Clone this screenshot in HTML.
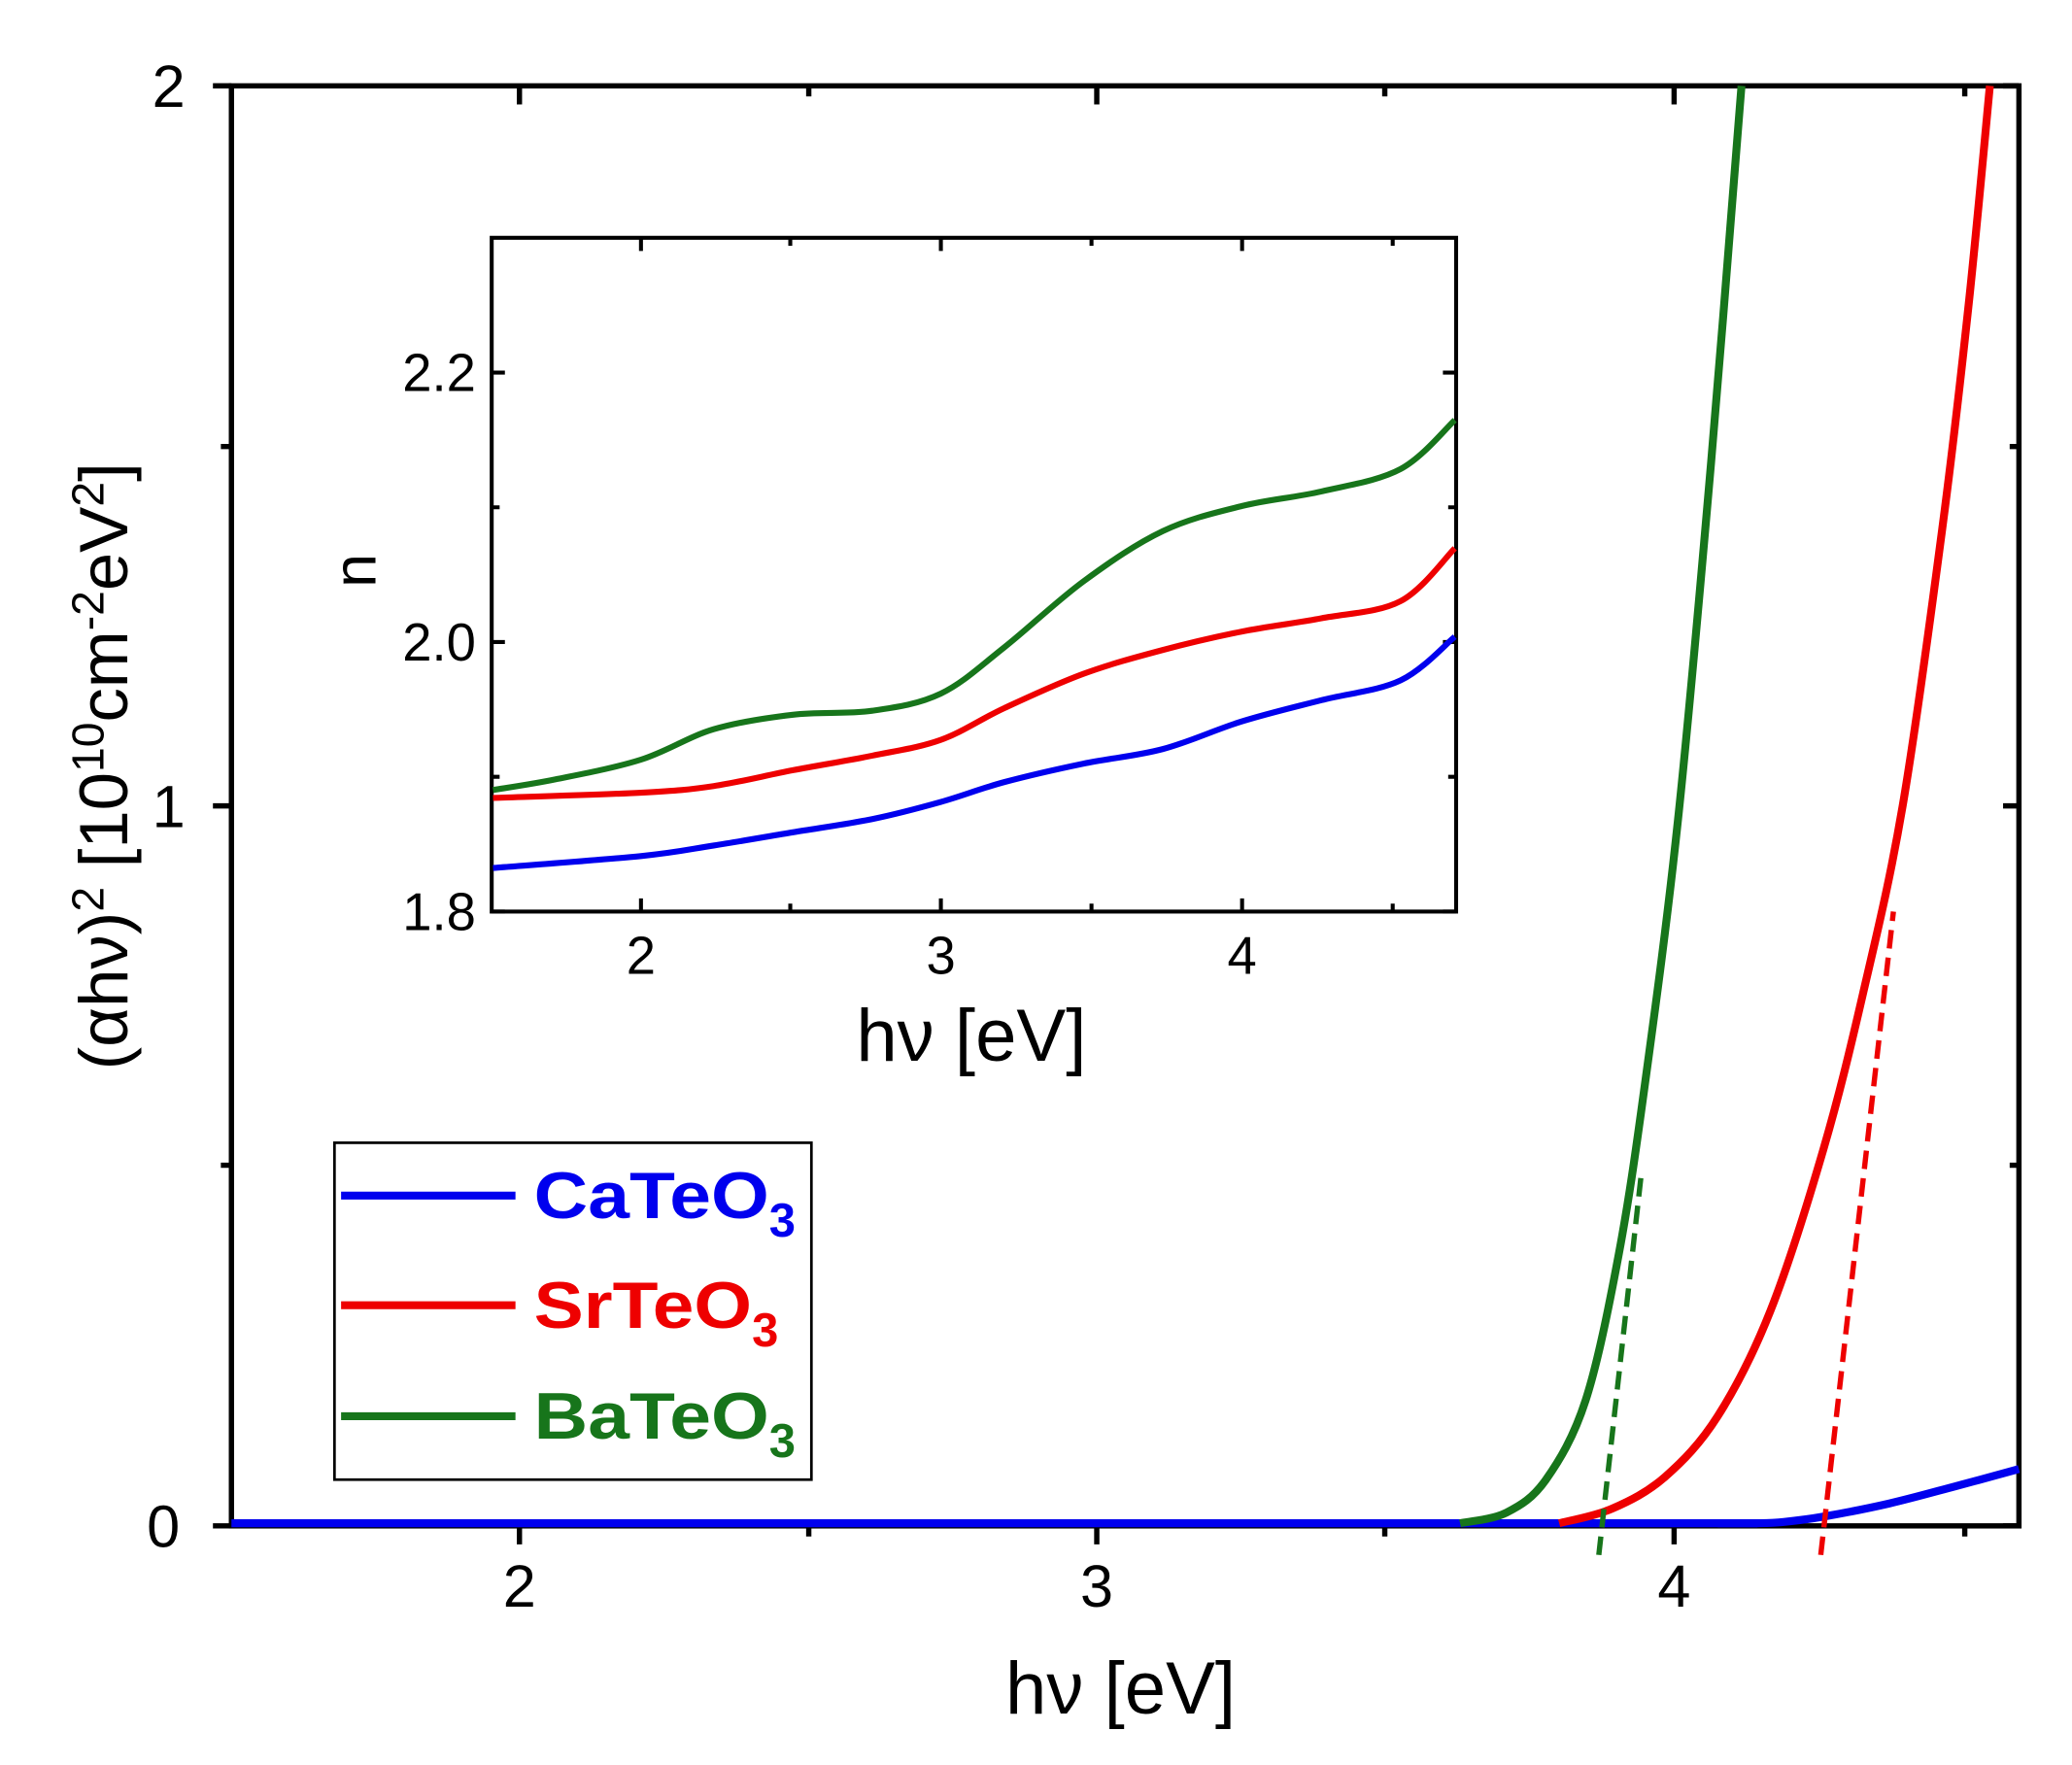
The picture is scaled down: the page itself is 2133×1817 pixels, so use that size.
<!DOCTYPE html>
<html><head><meta charset="utf-8"><style>html,body{margin:0;padding:0;background:#fff}svg{display:block}</style></head>
<body>
<svg id="s" width="2133" height="1817" viewBox="0 0 1568 1336" xmlns="http://www.w3.org/2000/svg" font-family="Liberation Sans, sans-serif">
<rect width="1568" height="1336" fill="#fff"/>
<g stroke="#000" stroke-width="4" fill="none">
<rect x="175" y="65" width="1353" height="1090"/>
<path d="M393 1155v14M830 1155v14M1267 1155v14M612 1155v8M1048 1155v8M1487 1155v8
M393 65v14M830 65v14M1267 65v14M612 65v8M1048 65v8M1487 65v8
M175 1155h-14M175 610h-14M175 65h-14M175 882h-8M175 338h-8
M1528 1155h-12M1528 610h-12M1528 65h-12M1528 882h-7M1528 338h-7"/>
</g>
<g font-size="45" text-anchor="middle" fill="#000">
<text x="393" y="1216">2</text><text x="830" y="1216">3</text><text x="1267" y="1216">4</text>
<text x="136" y="1171" text-anchor="end">0</text><text x="140" y="626" text-anchor="end">1</text><text x="140" y="81" text-anchor="end">2</text>
<text x="848" y="1297" font-size="56">hν [eV]</text>
</g>
<text transform="translate(96,580) rotate(-90)" font-size="52" text-anchor="middle">(αhν)<tspan dy="-18" font-size="34">2</tspan><tspan dy="18"> [10</tspan><tspan dy="-18" font-size="34">10</tspan><tspan dy="18">cm</tspan><tspan dy="-18" font-size="34">-2</tspan><tspan dy="18">eV</tspan><tspan dy="-18" font-size="34">2</tspan><tspan dy="18">]</tspan></text>
<g fill="none" stroke-width="6" stroke-linejoin="round">
<polyline stroke="#0000ee" points="175,1153 1330,1153"/>
<polyline class="sm" stroke="#0000ee" points="1300,1153 1330,1153 1350,1152 1380,1148 1430,1138 1480,1125 1528,1112"/>
<polyline class="sm" stroke="#ee0000" points="1180,1153 1220,1142 1260,1118 1300,1072 1340,992 1380,870 1410,752 1440,610 1470,400 1490,230 1506,65"/>
<polyline class="sm" stroke="#17751b" points="1105,1153 1140,1145 1170,1120 1200,1060 1225,950 1245,820 1270,620 1295,350 1318,65"/>
<path d="M1210 1177L1242 890" stroke="#17751b" stroke-width="4" stroke-dasharray="14,7"/>
<path d="M1378 1177L1433 690" stroke="#ee0000" stroke-width="4" stroke-dasharray="14,7"/>
</g>
<rect x="253" y="865" width="361" height="255" fill="#fff" stroke="#000" stroke-width="2"/>
<g stroke-width="6"><path d="M258 905H390" stroke="#0000ee"/><path d="M258 988H390" stroke="#ee0000"/><path d="M258 1072H390" stroke="#17751b"/></g>
<g font-size="50" font-weight="bold">
<text x="404" y="922" fill="#0000ee"><tspan textLength="178" lengthAdjust="spacingAndGlyphs">CaTeO</tspan><tspan dy="14" font-size="36">3</tspan></text>
<text x="404" y="1005" fill="#ee0000"><tspan textLength="165" lengthAdjust="spacingAndGlyphs">SrTeO</tspan><tspan dy="14" font-size="36">3</tspan></text>
<text x="404" y="1089" fill="#17751b"><tspan textLength="178" lengthAdjust="spacingAndGlyphs">BaTeO</tspan><tspan dy="14" font-size="36">3</tspan></text>
</g>
<rect x="372" y="180" width="730" height="510" fill="#fff" stroke="#000" stroke-width="3"/>
<g stroke="#000" stroke-width="3">
<path d="M485 690v-10M712 690v-10M940 690v-10M598 690v-6M826 690v-6M1054 690v-6
M485 180v10M712 180v10M940 180v10M598 180v6M826 180v6M1054 180v6
M372 690h10M372 486h10M372 282h10M372 588h6M372 384h6
M1102 690h-10M1102 486h-10M1102 282h-10M1102 588h-6M1102 384h-6"/>
</g>
<g font-size="40" text-anchor="middle">
<text x="485" y="737">2</text><text x="712" y="737">3</text><text x="940" y="737">4</text>
<text x="360" y="704" text-anchor="end">1.8</text><text x="360" y="500" text-anchor="end">2.0</text><text x="360" y="296" text-anchor="end">2.2</text>
<text x="735" y="803" font-size="56">hν [eV]</text>
</g>
<text transform="translate(284,432) rotate(-90)" font-size="46" text-anchor="middle">n</text>
<g fill="none" stroke-width="4.5" stroke-linejoin="round">
<polyline class="sm" stroke="#17751b" points="373,598 420,590 485,575 540,552 600,541 660,538 712,525 760,490 820,440 880,402 940,383 1000,372 1060,355 1101,318"/>
<polyline class="sm" stroke="#ee0000" points="373,604 485,600 540,595 600,583 660,572 712,560 760,536 820,510 880,492 940,478 1000,468 1060,455 1101,415"/>
<polyline class="sm" stroke="#0000ee" points="373,657 485,648 540,640 600,630 660,620 712,607 760,592 820,578 880,567 940,546 1000,530 1060,515 1101,482"/>
</g>
</svg>
<script>
document.querySelectorAll('polyline.sm').forEach(function(pl){
var p=pl.getAttribute('points').trim().split(/\s+/).map(function(s){return s.split(',').map(Number)});
var d='M'+p[0][0]+' '+p[0][1];
for(var i=0;i<p.length-1;i++){
var p0=p[i-1]||p[i],p1=p[i],p2=p[i+1],p3=p[i+2]||p2;
var c1=[p1[0]+(p2[0]-p0[0])/6,p1[1]+(p2[1]-p0[1])/6],c2=[p2[0]-(p3[0]-p1[0])/6,p2[1]-(p3[1]-p1[1])/6];
d+=' C'+c1[0]+' '+c1[1]+' '+c2[0]+' '+c2[1]+' '+p2[0]+' '+p2[1];}
var path=document.createElementNS('http://www.w3.org/2000/svg','path');
path.setAttribute('d',d);path.setAttribute('stroke',pl.getAttribute('stroke'));
pl.parentNode.replaceChild(path,pl);});
</script>
</body></html>
